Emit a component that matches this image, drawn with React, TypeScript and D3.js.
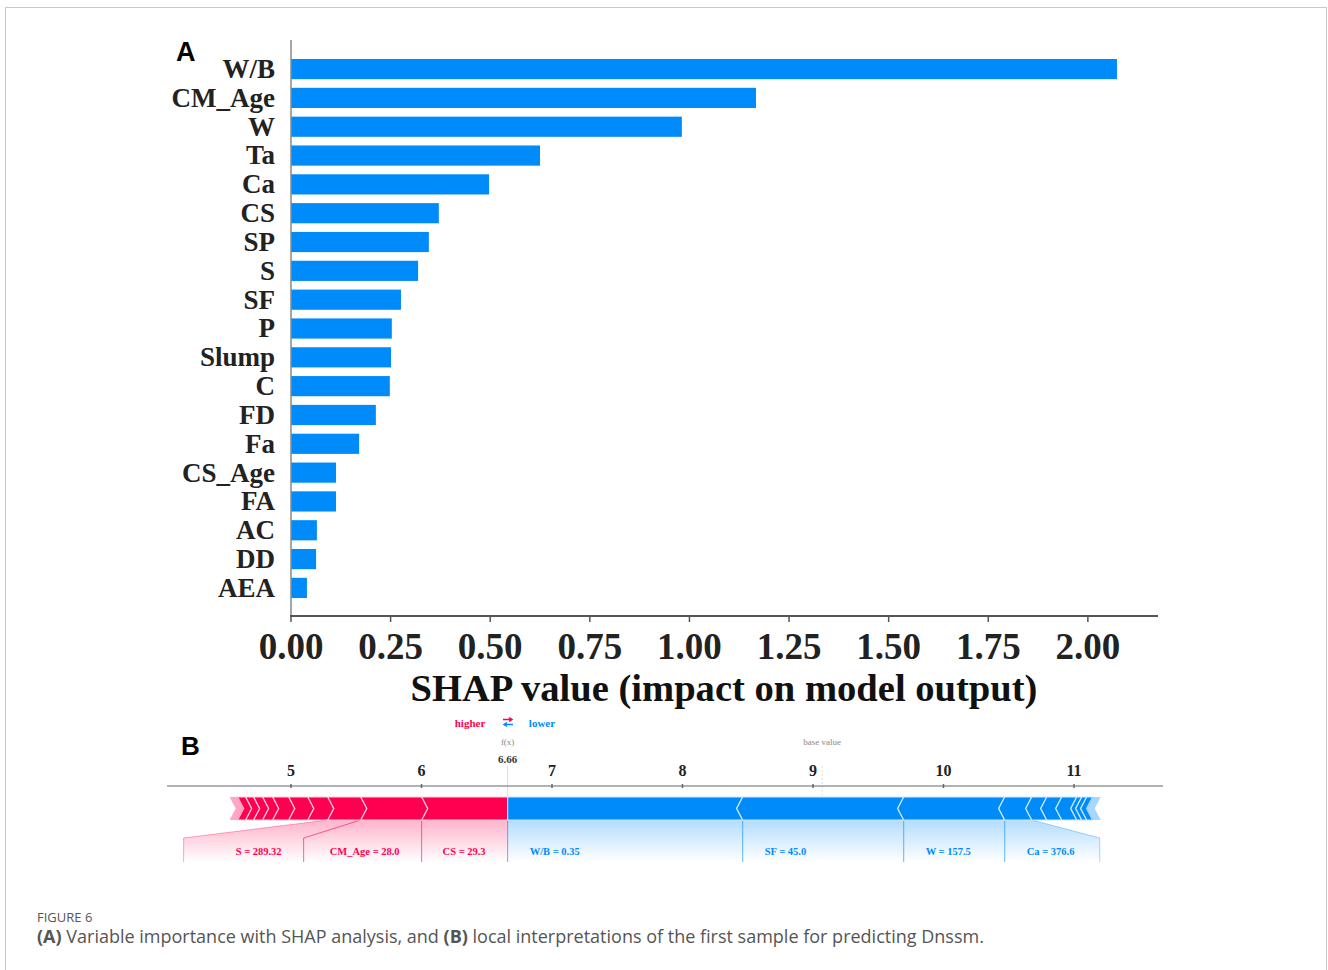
import * as d3 from "d3";

// Panel A: mean |SHAP| per feature
const features = ["W/B", "CM_Age", "W", "Ta", "Ca", "CS", "SP", "S", "SF", "P", "Slump", "C", "FD", "Fa", "CS_Age", "FA", "AC", "DD", "AEA"];
const importance = [2.073, 1.167, 0.981, 0.625, 0.497, 0.371, 0.346, 0.319, 0.276, 0.253, 0.251, 0.248, 0.213, 0.171, 0.113, 0.113, 0.065, 0.063, 0.04];
const xTicksA = [0, 0.25, 0.5, 0.75, 1.0, 1.25, 1.5, 1.75, 2.0];

// Panel B: force plot of the first sample
const fx = 6.66;
const baseValue = 9.07;
const redLabels = ["CS = 29.3", "CM_Age = 28.0", "S = 289.32", "", "", "", "", "", "", ""];
const redValues = [0.659, 0.467, 0.253, 0.153, 0.146, 0.123, 0.077, 0.069, 0.061, 0.061];
const blueLabels = ["W/B = 0.35", "SF = 45.0", "W = 157.5", "Ca = 376.6", "", "", "", "", "", ""];
const blueValues = [1.801, 1.234, 0.774, 0.207, 0.115, 0.115, 0.115, 0.038, 0.038, 0.046];
const xTicksB = [5, 6, 7, 8, 9, 10, 11];

const RED = "#ff0051";
const BLUE = "#008bfb";
const SERIF = "'Liberation Serif', 'Times New Roman', serif";
const SANS = "'Liberation Sans', Arial, sans-serif";

// label box min widths (layout only)
const redBoxMin = [0, 118, 120];
const blueBoxMin = [0, 0, 0, 95];

export default function App() {
  const W = 1328;
  const H = 970;

  // ---- panel A scales
  const x = d3.scaleLinear().domain([0, 2.176]).range([291, 1158]);
  const y = d3.scaleBand().domain(features).range([59, 598]).paddingInner(0.3).paddingOuter(0);

  // ---- panel B scales
  const xs = d3.scaleLinear().domain([5, 11]).range([291, 1074]);
  const barTop = 797;
  const barBot = 820;
  const mid = (barTop + barBot) / 2;
  const notch = 6;
  const labTop = 838;
  const labBot = 862;

  // red segments, going left from f(x)
  let acc = fx;
  const redSegs = redValues.map((v, i) => {
    const x1 = xs(acc);
    acc -= v;
    const x0 = xs(acc);
    return { x0, x1, label: redLabels[i], i };
  });
  acc = fx;
  const blueSegs = blueValues.map((v, i) => {
    const x0 = xs(acc);
    acc += v;
    const x1 = xs(acc);
    return { x0, x1, label: blueLabels[i], i };
  });

  // label boxes
  let prevLeft = xs(fx);
  const redBoxes = redSegs
    .filter((s) => s.label)
    .map((s) => {
      const w = Math.max(s.x1 - s.x0, redBoxMin[s.i] || 0);
      const b1 = Math.min(s.x1, prevLeft);
      const b0 = b1 - w;
      prevLeft = b0;
      return { ...s, b0, b1 };
    });
  let prevRight = xs(fx);
  const blueBoxes = blueSegs
    .filter((s) => s.label)
    .map((s) => {
      const w = Math.max(s.x1 - s.x0, blueBoxMin[s.i] || 0);
      const b0 = Math.max(s.x0, prevRight);
      const b1 = b0 + w;
      prevRight = b1;
      return { ...s, b0, b1 };
    });

  const redPoly = (s: { x0: number; x1: number }, first: boolean) => {
    const tip = first ? s.x1 : s.x1 + notch;
    return `M${s.x0},${barTop} L${s.x1},${barTop} L${tip},${mid} L${s.x1},${barBot} L${s.x0},${barBot} L${s.x0 + notch},${mid} Z`;
  };
  const bluePoly = (s: { x0: number; x1: number }, first: boolean) => {
    const lm = first ? s.x0 : s.x0 - notch;
    return `M${s.x0},${barTop} L${s.x1},${barTop} L${s.x1 - notch},${mid} L${s.x1},${barBot} L${s.x0},${barBot} L${lm},${mid} Z`;
  };

  const lastRed = redSegs[redSegs.length - 1];
  const lastBlue = blueSegs[blueSegs.length - 1];

  return (
    <svg width={W} height={H} style={{ position: "absolute", left: 0, top: 0, background: "#fff" }}>
      <defs>
        <linearGradient id="gRed" x1="0" y1="0" x2="0" y2="1">
          <stop offset="0" stopColor={RED} stopOpacity={0.3} />
          <stop offset="1" stopColor={RED} stopOpacity={0} />
        </linearGradient>
        <linearGradient id="gBlue" x1="0" y1="0" x2="0" y2="1">
          <stop offset="0" stopColor={BLUE} stopOpacity={0.3} />
          <stop offset="1" stopColor={BLUE} stopOpacity={0} />
        </linearGradient>
      </defs>
      <rect x={5.5} y={7.5} width={1321} height={980} fill="#fff" stroke="#c8c8c8" />

      {/* ---------- Panel A ---------- */}
      <text x={176} y={61} fontFamily={SANS} fontWeight="bold" fontSize={27}>A</text>
      {features.map((f, i) => (
        <rect key={f} x={x(0)} y={y(f)!} width={x(importance[i]) - x(0)} height={y.bandwidth()} fill={BLUE} />
      ))}
      {features.map((f) => (
        <text key={f} x={275} y={y(f)! + y.bandwidth() / 2} dy="0.33em" textAnchor="end" fontFamily={SERIF} fontWeight="bold" fontSize={27} fill="#222">
          {f}
        </text>
      ))}
      <line x1={291} x2={291} y1={40} y2={616} stroke="#888" strokeWidth={1.5} />
      <line x1={290} x2={1158} y1={616} y2={616} stroke="#555" strokeWidth={2} />
      {xTicksA.map((t) => (
        <g key={t}>
          <line x1={x(t)} x2={x(t)} y1={616} y2={622} stroke="#555" strokeWidth={1.5} />
          <text x={x(t)} y={659} textAnchor="middle" fontFamily={SERIF} fontWeight="bold" fontSize={37} fill="#222">
            {d3.format(".2f")(t)}
          </text>
        </g>
      ))}
      <text x={724} y={701} textAnchor="middle" fontFamily={SERIF} fontWeight="bold" fontSize={38.6} fill="#111">
        SHAP value (impact on model output)
      </text>

      {/* ---------- Panel B ---------- */}
      <text x={181} y={755} fontFamily={SANS} fontWeight="bold" fontSize={26}>B</text>
      <text x={470} y={727} textAnchor="middle" fontFamily={SERIF} fontWeight="bold" fontSize={11} fill={RED}>higher</text>
      <text x={542} y={727} textAnchor="middle" fontFamily={SERIF} fontWeight="bold" fontSize={11} fill={BLUE}>lower</text>
      <path d="M503,719.5 L512,719.5 M509,717.5 L512,719.5 L509,721.5" stroke={RED} strokeWidth={1.5} fill="none" />
      <path d="M504,724.5 L513,724.5 M507,722.5 L504,724.5 L507,726.5" stroke={BLUE} strokeWidth={1.5} fill="none" />
      <text x={xs(fx)} y={745} textAnchor="middle" fontFamily={SERIF} fontSize={9} fill="#888">f(x)</text>
      <text x={xs(fx)} y={763} textAnchor="middle" fontFamily={SERIF} fontWeight="bold" fontSize={11} fill="#333">
        {fx.toFixed(2)}
      </text>
      <text x={xs(baseValue)} y={745} textAnchor="middle" fontFamily={SERIF} fontSize={9} fill="#888">base value</text>
      <line x1={xs(fx)} x2={xs(fx)} y1={766} y2={797} stroke="#ddd" strokeWidth={1} />
      <line x1={xs(baseValue)} x2={xs(baseValue)} y1={766} y2={797} stroke="#ddd" strokeWidth={1} strokeDasharray="2,2" />

      <line x1={167} x2={1163} y1={786} y2={786} stroke="#999" strokeWidth={1.5} />
      {xTicksB.map((t) => (
        <g key={t}>
          <line x1={xs(t)} x2={xs(t)} y1={784} y2={788} stroke="#666" strokeWidth={1.5} />
          <text x={xs(t)} y={776} textAnchor="middle" fontFamily={SERIF} fontWeight="bold" fontSize={16} fill="#222">
            {t}
          </text>
        </g>
      ))}

      {/* label trapezoids */}
      {redBoxes.map((b) => (
        <g key={b.label}>
          <path
            d={`M${b.x0},${barBot} L${b.x1},${barBot} L${b.b1},${labTop} L${b.b1},${labBot} L${b.b0},${labBot} L${b.b0},${labTop} Z`}
            fill="url(#gRed)"
          />
          <path d={`M${b.x0},${barBot} L${b.b0},${labTop} L${b.b0},${labBot}`} stroke={RED} strokeOpacity={0.35} fill="none" />
          <path d={`M${b.x1},${barBot} L${b.b1},${labTop} L${b.b1},${labBot}`} stroke={RED} strokeOpacity={0.35} fill="none" />
          <text x={b.b1 - 22} y={855} textAnchor="end" fontFamily={SERIF} fontWeight="bold" fontSize={10.5} fill={RED}>
            {b.label}
          </text>
        </g>
      ))}
      {blueBoxes.map((b) => (
        <g key={b.label}>
          <path
            d={`M${b.x0},${barBot} L${b.x1},${barBot} L${b.b1},${labTop} L${b.b1},${labBot} L${b.b0},${labBot} L${b.b0},${labTop} Z`}
            fill="url(#gBlue)"
          />
          <path d={`M${b.x0},${barBot} L${b.b0},${labTop} L${b.b0},${labBot}`} stroke={BLUE} strokeOpacity={0.35} fill="none" />
          <path d={`M${b.x1},${barBot} L${b.b1},${labTop} L${b.b1},${labBot}`} stroke={BLUE} strokeOpacity={0.35} fill="none" />
          <text x={b.b0 + 22} y={855} textAnchor="start" fontFamily={SERIF} fontWeight="bold" fontSize={10.5} fill={BLUE}>
            {b.label}
          </text>
        </g>
      ))}

      {/* force bar segments */}
      {redSegs.map((s, i) => (
        <path key={"r" + i} d={redPoly(s, i === 0)} fill={RED} stroke="#ffd0de" strokeWidth={1.2} />
      ))}
      <path
        d={`M${lastRed.x0 - 8},${barTop} L${lastRed.x0},${barTop} L${lastRed.x0 + notch},${mid} L${lastRed.x0},${barBot} L${lastRed.x0 - 8},${barBot} L${lastRed.x0 - 8 + notch},${mid} Z`}
        fill={RED}
        opacity={0.35}
      />
      {blueSegs.map((s, i) => (
        <path key={"b" + i} d={bluePoly(s, i === 0)} fill={BLUE} stroke="#cfe8ff" strokeWidth={1.2} />
      ))}
      <path
        d={`M${lastBlue.x1},${barTop} L${lastBlue.x1 + 8},${barTop} L${lastBlue.x1 + 8 - notch},${mid} L${lastBlue.x1 + 8},${barBot} L${lastBlue.x1},${barBot} L${lastBlue.x1 - notch},${mid} Z`}
        fill={BLUE}
        opacity={0.35}
      />

      {/* ---------- caption ---------- */}
      <text x={37} y={922} fontFamily="'Open Sans', 'Noto Sans', sans-serif" fontSize={13} fill="#555">FIGURE 6</text>
      <text x={37} y={943} fontFamily="'Open Sans', 'Noto Sans', sans-serif" fontSize={18} fill="#555">
        <tspan fontWeight="bold">(A)</tspan> Variable importance with SHAP analysis, and <tspan fontWeight="bold">(B)</tspan> local interpretations of the first sample for predicting Dnssm.
      </text>
    </svg>
  );
}
